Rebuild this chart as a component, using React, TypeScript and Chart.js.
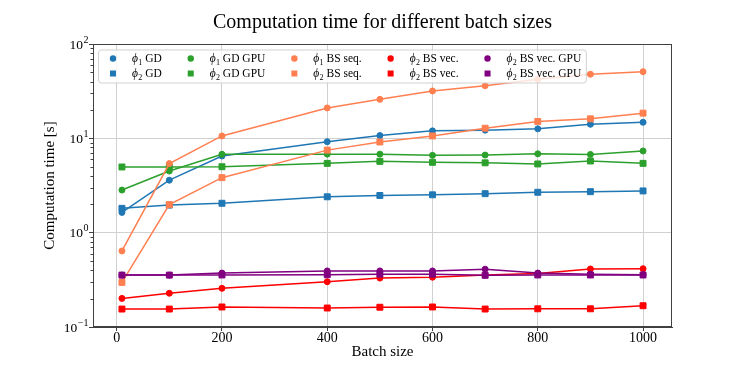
import React, { useEffect, useRef } from 'react';
import { Chart, registerables } from 'chart.js';

Chart.register(...registerables);

const FONT = '"Liberation Serif", "DejaVu Serif", serif';

const batchSizes = [10, 100, 200, 400, 500, 600, 700, 800, 900, 1000];

const phi1GD = [1.64, 3.6, 6.5, 9.2, 10.7, 12.0, 12.2, 12.6, 14.1, 14.8];
const phi2GD = [1.81, 1.96, 2.05, 2.4, 2.48, 2.52, 2.59, 2.68, 2.72, 2.77];
const phi1GDGPU = [2.83, 4.5, 6.78, 6.8, 6.8, 6.6, 6.65, 6.85, 6.75, 7.35];
const phi2GDGPU = [4.97, 4.97, 5.0, 5.43, 5.7, 5.57, 5.5, 5.35, 5.75, 5.43];
const phi1BSseq = [0.64, 5.4, 10.6, 21, 25.9, 31.8, 36.1, 42.3, 47.8, 50.9];
const phi2BSseq = [0.297, 1.98, 3.83, 7.5, 9.15, 10.6, 12.8, 15.1, 16.1, 18.5];
const phi1BSvec = [0.201, 0.228, 0.257, 0.302, 0.33, 0.337, 0.356, 0.37, 0.412, 0.415];
const phi2BSvec = [0.155, 0.155, 0.163, 0.159, 0.162, 0.163, 0.155, 0.156, 0.156, 0.168];
const phi1BSvecGPU = [0.355, 0.355, 0.373, 0.393, 0.393, 0.393, 0.41, 0.373, 0.363, 0.358];
const phi2BSvecGPU = [0.355, 0.355, 0.356, 0.358, 0.363, 0.363, 0.353, 0.356, 0.356, 0.356];

const seriesLabels = [
  'ϕ₁ GD', 'ϕ₂ GD', 'ϕ₁ GD GPU', 'ϕ₂ GD GPU', 'ϕ₁ BS seq.', 'ϕ₂ BS seq.',
  'ϕ₂ BS vec.', 'ϕ₂ BS vec.', 'ϕ₂ BS vec. GPU', 'ϕ₂ BS vec. GPU',
];
const seriesValues = [
  phi1GD, phi2GD, phi1GDGPU, phi2GDGPU, phi1BSseq, phi2BSseq,
  phi1BSvec, phi2BSvec, phi1BSvecGPU, phi2BSvecGPU,
];
const seriesColors = [
  '#1f77b4', '#1f77b4', '#2ca02c', '#2ca02c', '#ff7f50', '#ff7f50',
  '#ff0000', '#ff0000', '#800080', '#800080',
];

const xTicks = [0, 200, 400, 600, 800, 1000];
const yMajorTicks = [0.1, 1, 10, 100];

const titleText = 'Computation time for different batch sizes';
const xTitle = 'Batch size';
const yTitle = 'Computation time [s]';

const SUB: Record<string, string> = { '₁': '1', '₂': '2' };

function renderLabel(ctx: CanvasRenderingContext2D, label: string, x: number, y: number, size: number, draw: boolean) {
  const sym = label[0];
  const sub = SUB[label[1]] ?? label[1];
  const rest = label.slice(2);
  const base = y + size * 0.33;
  ctx.textAlign = 'left';
  ctx.textBaseline = 'alphabetic';
  ctx.font = `italic ${size}px ${FONT}`;
  if (draw) ctx.fillText(sym, x, base);
  let cx = x + ctx.measureText(sym).width + 0.3;
  ctx.font = `${Math.round(size * 0.72)}px ${FONT}`;
  if (draw) ctx.fillText(sub, cx, base + size * 0.22);
  cx += ctx.measureText(sub).width;
  ctx.font = `${size}px ${FONT}`;
  if (draw) ctx.fillText(rest, cx, base);
  cx += ctx.measureText(rest).width;
  return cx - x;
}

const decorPlugin = {
  id: 'decor',
  afterDraw(chart: any) {
    const ctx: CanvasRenderingContext2D = chart.ctx;
    const area = chart.chartArea;
    const yScale = chart.scales.y;
    ctx.save();

    // frame (all four spines)
    ctx.strokeStyle = '#404040';
    ctx.lineWidth = 1;
    ctx.strokeRect(Math.round(area.left) + 0.5, Math.round(area.top) + 0.5,
      Math.round(area.right - area.left) - 1, Math.round(area.bottom - area.top) - 1);

    // y minor tick marks
    for (const t of yScale.ticks) {
      if (yMajorTicks.includes(t.value)) continue;
      const py = Math.round(yScale.getPixelForValue(t.value)) + 0.5;
      ctx.beginPath();
      ctx.moveTo(area.left - 2.5, py);
      ctx.lineTo(area.left, py);
      ctx.stroke();
    }

    // y tick labels with superscripts
    ctx.fillStyle = '#000';
    ctx.textBaseline = 'alphabetic';
    ctx.textAlign = 'left';
    const right = area.left - 4.5;
    for (const v of yMajorTicks) {
      const py = yScale.getPixelForValue(v);
      const exp = String(Math.round(Math.log10(v))).replace('-', '−');
      ctx.font = `10px ${FONT}`;
      const ew = ctx.measureText(exp).width;
      ctx.font = `13.5px ${FONT}`;
      const bw = ctx.measureText('10').width;
      ctx.fillText('10', right - ew - bw - 0.5, py + 4.8);
      ctx.font = `10px ${FONT}`;
      ctx.fillText(exp, right - ew, py - 1.5);
    }

    // title
    ctx.font = `20px ${FONT}`;
    ctx.textAlign = 'center';
    ctx.fillText(titleText, (area.left + area.right) / 2, 28);

    // legend
    const size = 11.5;
    const fx = area.left + 5.5;
    const fy = area.top + 6;
    const nCols = Math.ceil(seriesLabels.length / 2);
    const colW: number[] = [];
    for (let c = 0; c < nCols; c++) {
      let w = 0;
      for (let r = 0; r < 2; r++) {
        const i = c * 2 + r;
        if (i < seriesLabels.length) w = Math.max(w, renderLabel(ctx, seriesLabels[i], 0, 0, size, false));
      }
      colW.push(w);
    }
    const markerXs: number[] = [];
    let mx = fx + 14.5;
    for (let c = 0; c < nCols; c++) {
      markerXs.push(mx);
      mx = mx + 19 + colW[c] + 29;
    }
    const frameRight = markerXs[nCols - 1] + 19 + colW[nCols - 1] + 5;
    ctx.beginPath();
    ctx.roundRect(fx, fy, frameRight - fx, 33, 3);
    ctx.fillStyle = 'rgba(255,255,255,0.8)';
    ctx.fill();
    ctx.strokeStyle = 'rgba(204,204,204,0.9)';
    ctx.stroke();
    for (let i = 0; i < seriesLabels.length; i++) {
      const c = Math.floor(i / 2);
      const r = i % 2;
      const cy = fy + 8.5 + r * 15;
      const x0 = markerXs[c];
      ctx.fillStyle = seriesColors[i];
      if (r === 0) {
        ctx.beginPath();
        ctx.arc(x0, cy, 3.2, 0, Math.PI * 2);
        ctx.fill();
      } else {
        ctx.fillRect(x0 - 3, cy - 3, 6, 6);
      }
      ctx.fillStyle = '#000';
      renderLabel(ctx, seriesLabels[i], x0 + 19, cy, size, true);
    }
    ctx.restore();
  },
};

export default function App() {
  const canvasRef = useRef<HTMLCanvasElement | null>(null);

  useEffect(() => {
    if (!canvasRef.current) return;
    const minorTicks: number[] = [];
    for (let e = -1; e <= 2; e++) {
      for (let m = 1; m <= 9; m++) {
        const v = Number((m * Math.pow(10, e)).toPrecision(6));
        if (v <= 100) minorTicks.push(v);
      }
    }
    const chart = new Chart(canvasRef.current, {
      type: 'line',
      data: {
        datasets: seriesLabels.map((label, i) => ({
          label,
          data: batchSizes.map((x, j) => ({ x, y: seriesValues[i][j] })),
          borderColor: seriesColors[i],
          backgroundColor: seriesColors[i],
          pointStyle: i % 2 === 0 ? 'circle' : 'rect',
          pointRadius: i % 2 === 0 ? 3 : 4.2,
          pointBorderWidth: 1,
          borderWidth: 1.5,
          tension: 0,
          order: -i,
        })),
      },
      options: {
        animation: false,
        responsive: false,
        events: [],
        layout: { padding: { left: 0, right: 75, top: 44, bottom: 0 } },
        plugins: {
          legend: { display: false },
          title: { display: false },
          tooltip: { enabled: false },
        },
        scales: {
          x: {
            type: 'linear',
            min: -45,
            max: 1055,
            afterBuildTicks: (scale: any) => {
              scale.ticks = xTicks.map((v) => ({ value: v }));
            },
            afterFit: (scale: any) => {
              scale.height = 47;
            },
            ticks: {
              autoSkip: false,
              maxRotation: 0,
              padding: -1,
              color: '#000',
              font: { family: FONT, size: 14 },
              callback: (v: any) => String(v),
            },
            grid: {
              color: '#d0d0d0',
              lineWidth: 1,
              drawTicks: true,
              tickLength: 4,
              tickColor: '#404040',
            },
            border: { display: true, color: '#404040' },
            title: {
              display: true,
              text: xTitle,
              color: '#000',
              font: { family: FONT, size: 15 },
              padding: { top: 0, bottom: 13 },
            },
          },
          y: {
            type: 'logarithmic',
            min: 0.1,
            max: 100,
            afterBuildTicks: (scale: any) => {
              scale.ticks = minorTicks.map((v) => ({ value: v, major: yMajorTicks.includes(v) }));
            },
            afterFit: (scale: any) => {
              scale.width = 93;
            },
            ticks: { display: false, autoSkip: false },
            grid: {
              color: (ctx: any) => (ctx.tick && yMajorTicks.includes(ctx.tick.value) ? '#d0d0d0' : 'rgba(0,0,0,0)'),
              lineWidth: 1,
              drawTicks: true,
              tickLength: 4,
              tickColor: (ctx: any) => (ctx.tick && yMajorTicks.includes(ctx.tick.value) ? '#404040' : 'rgba(0,0,0,0)'),
            },
            border: { display: true, color: '#404040' },
            title: {
              display: true,
              text: yTitle,
              color: '#000',
              font: { family: FONT, size: 15 },
              padding: { top: 41, bottom: 0 },
            },
          },
        },
      },
      plugins: [decorPlugin],
    } as any);
    return () => chart.destroy();
  }, []);

  return (
    <div style={{ position: 'fixed', left: 0, top: 0, width: 747, height: 374, background: '#fff' }}>
      <canvas ref={canvasRef} width={747} height={374} style={{ display: 'block' }} />
    </div>
  );
}
